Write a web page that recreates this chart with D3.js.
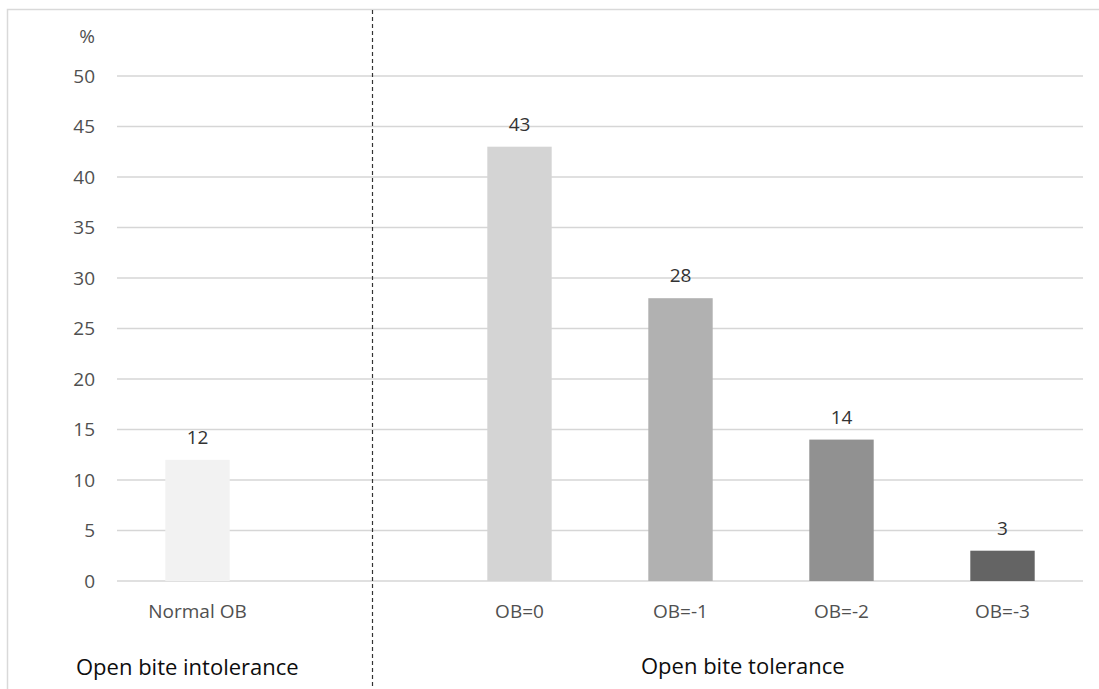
<!DOCTYPE html>
<html>
<head>
<meta charset="utf-8">
<script src="https://cdn.jsdelivr.net/npm/d3@7"></script>
<style>
  html, body { margin: 0; padding: 0; background: #fff; }
  svg { display: block; font-family: "Open Sans", sans-serif; }
</style>
</head>
<body>
<svg id="chart" width="1099" height="689"></svg>
<script>
// ---- data ----
const categories = ["Normal OB", "", "OB=0", "OB=-1", "OB=-2", "OB=-3"];
const values = [12, null, 43, 28, 14, 3];
const barColors = ["#f2f2f2", null, "#d4d4d4", "#b1b1b1", "#919191", "#646464"];
const yTicks = [0, 5, 10, 15, 20, 25, 30, 35, 40, 45, 50];
const groupLabels = ["Open bite intolerance", "Open bite tolerance"];
const yUnit = "%";

// ---- layout ----
const svg = d3.select("#chart");
const plotLeft = 117, plotRight = 1083, plotTop = 76, plotBottom = 581;

const x = d3.scaleBand().domain(categories.map((c, i) => i))
  .range([plotLeft, plotRight]).paddingInner(0.6).paddingOuter(0.3);
const y = d3.scaleLinear().domain([0, 50]).range([plotBottom, plotTop]);

// outer frame (left + top)
svg.append("path")
  .attr("d", "M7.5,689 L7.5,9.5 L1099,9.5")
  .attr("fill", "none").attr("stroke", "#d9d9d9").attr("stroke-width", 1.5);

// gridlines
svg.append("g").selectAll("line").data(yTicks).join("line")
  .attr("x1", plotLeft).attr("x2", plotRight)
  .attr("y1", d => y(d)).attr("y2", d => y(d))
  .attr("stroke", "#d6d6d6").attr("stroke-width", 1.6);

// y axis labels
const yAxis = d3.axisLeft(y).tickValues(yTicks).tickSize(0).tickPadding(0);
const ya = svg.append("g").attr("transform", `translate(95,0)`).call(yAxis);
ya.select(".domain").remove();
ya.selectAll("text").attr("font-size", 19).attr("fill", "#505050")
  .attr("font-family", "Open Sans, sans-serif");

svg.append("text").attr("x", 95).attr("y", y(50) - 40).attr("text-anchor", "end")
  .attr("dominant-baseline", "central")
  .attr("font-size", 19).attr("fill", "#505050").text(yUnit);

// bars
const data = categories.map((c, i) => ({ c, i, v: values[i], col: barColors[i] }))
  .filter(d => d.v != null);
svg.append("g").selectAll("rect").data(data).join("rect")
  .attr("x", d => x(d.i)).attr("width", x.bandwidth())
  .attr("y", d => y(d.v)).attr("height", d => y(0) - y(d.v))
  .attr("fill", d => d.col);

// value labels
svg.append("g").selectAll("text").data(data).join("text")
  .attr("x", d => x(d.i) + x.bandwidth() / 2)
  .attr("y", d => y(d.v) - 16)
  .attr("text-anchor", "middle").attr("font-size", 19).attr("fill", "#333")
  .text(d => d.v);

// category labels
const xAxis = d3.axisBottom(x).tickFormat(i => categories[i]).tickSize(0).tickPadding(0);
const xa = svg.append("g").attr("transform", `translate(0,${plotBottom})`).call(xAxis);
xa.select(".domain").remove();
xa.selectAll("text").attr("font-size", 19).attr("fill", "#505050")
  .attr("font-family", "Open Sans, sans-serif")
  .attr("dy", null).attr("y", 37);

// dashed divider
svg.append("line").attr("x1", 372.5).attr("x2", 372.5).attr("y1", 10).attr("y2", 689)
  .attr("stroke", "#333").attr("stroke-width", 1.2).attr("stroke-dasharray", "4,3");

// group labels
svg.append("text").attr("x", 76).attr("y", 675).attr("font-size", 22)
  .attr("fill", "#0d0d0d").text(groupLabels[0]);
svg.append("text").attr("x", 641).attr("y", 674)
  .attr("font-size", 22).attr("fill", "#0d0d0d").text(groupLabels[1]);
</script>
</body>
</html>
